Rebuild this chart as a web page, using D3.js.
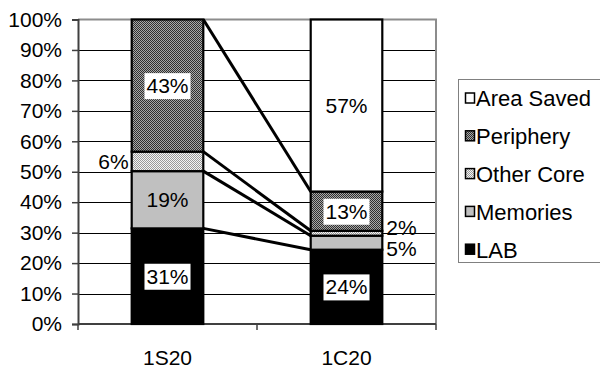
<!DOCTYPE html>
<html>
<head>
<meta charset="utf-8">
<script src="https://cdn.jsdelivr.net/npm/d3@7"></script>
<style>
  body { margin: 0; background: #fff; }
  svg { display: block; }
  text { font-family: "Liberation Sans", Arial, sans-serif; fill: #000; }
</style>
</head>
<body>
<svg id="chart" width="600" height="369"></svg>
<script>
// Area breakdown per architecture (percent of total)
const categories = ["1S20", "1C20"];
const seriesNames = ["LAB", "Memories", "Other Core", "Periphery", "Area Saved"];
const lab        = [31.4, 24.4];
const memories   = [18.8, 4.6];
const otherCore  = [6.4, 1.6];
const periphery  = [43.4, 12.9];
const areaSaved  = [0, 56.5];
const yTicks = [0, 10, 20, 30, 40, 50, 60, 70, 80, 90, 100];

const seriesValues = [lab, memories, otherCore, periphery, areaSaved];
const rows = categories.map((c, i) => {
  const r = { category: c };
  seriesNames.forEach((s, k) => { r[s] = seriesValues[k][i]; });
  return r;
});

const svg = d3.select("#chart");
const plotL = 78, plotR = 436, plotT = 19.5, plotB = 324;
const FS = 21;

const x = d3.scaleBand().domain(categories).range([plotL, plotR])
  .paddingInner(0.6).paddingOuter(0.3);
const y = d3.scaleLinear().domain([0, 100]).range([plotB, plotT]);

// stipple fills: 16px tiles of alternating 1px dots
const defs = svg.append("defs");
function stipple(id, base, dot) {
  const n = 16;
  let d = "";
  for (let r = 0; r < n; r++)
    for (let c = 0; c < n; c++)
      if ((c + r) % 2 === 0) d += `M${c},${r}h1v1h-1z`;
  const p = defs.append("pattern").attr("id", id)
    .attr("patternUnits", "userSpaceOnUse").attr("width", n).attr("height", n);
  p.append("rect").attr("width", n).attr("height", n).attr("fill", base)
    .attr("shape-rendering", "crispEdges");
  p.append("path").attr("d", d).attr("fill", dot).attr("shape-rendering", "crispEdges");
}
stipple("pat-periphery", "#a8a8a8", "#303030");
stipple("pat-other", "#f4f4f4", "#9a9a9a");

const fills = {
  "LAB": "#000",
  "Memories": "#c0c0c0",
  "Other Core": "url(#pat-other)",
  "Periphery": "url(#pat-periphery)",
  "Area Saved": "#fff"
};

// gridlines
svg.append("g").selectAll("line").data(yTicks.filter(t => t > 0 && t < 100)).join("line")
  .attr("x1", plotL).attr("x2", plotR)
  .attr("y1", d => Math.round(y(d)) + 0.5).attr("y2", d => Math.round(y(d)) + 0.5)
  .attr("stroke", "#000").attr("stroke-width", 1);

// plot border (top and right)
svg.append("path")
  .attr("d", `M${plotL},${y(100)}H${plotR}V${plotB}`)
  .attr("fill", "none").attr("stroke", "#8c8c8c").attr("stroke-width", 2);

// y axis
const yAxis = svg.append("g").attr("transform", `translate(${plotL},0)`)
  .call(d3.axisLeft(y).tickValues(yTicks).tickFormat(d => d + "%").tickSize(6).tickPadding(10));
yAxis.select(".domain").attr("stroke", "#404040").attr("stroke-width", 2);
yAxis.selectAll(".tick line").attr("stroke", "#404040").attr("stroke-width", 1.5);
yAxis.selectAll(".tick text").attr("font-size", FS).attr("font-family", "Liberation Sans, Arial, sans-serif").attr("fill", "#000");

// x axis: ticks at category boundaries, labels at centres
const gap = x.step() - x.bandwidth();
const bounds = categories.map(c => x(c) - gap / 2).concat([x(categories[categories.length - 1]) + x.bandwidth() + gap / 2]);
const xAxis = svg.append("g");
xAxis.append("line").attr("x1", plotL).attr("x2", plotR).attr("y1", plotB).attr("y2", plotB)
  .attr("stroke", "#404040").attr("stroke-width", 2);
xAxis.selectAll("line.tk").data(bounds).join("line").attr("class", "tk")
  .attr("x1", d => d).attr("x2", d => d).attr("y1", plotB).attr("y2", plotB + 6)
  .attr("stroke", "#404040").attr("stroke-width", 1.5);
xAxis.selectAll("text").data(categories).join("text")
  .attr("x", d => x(d) + x.bandwidth() / 2).attr("y", 364.5)
  .attr("text-anchor", "middle").attr("font-size", FS).text(d => d);

// stacked data
const stacked = d3.stack().keys(seriesNames)(rows);

// series lines joining matching segment tops
const c0 = categories[0], c1 = categories[1];
const lineSeries = stacked.filter(s => s.key !== "Area Saved");
svg.append("g").selectAll("line").data(lineSeries).join("line")
  .attr("x1", x(c0) + x.bandwidth()).attr("y1", s => y(s[0][1]))
  .attr("x2", x(c1)).attr("y2", s => y(s[1][1]))
  .attr("stroke", "#000").attr("stroke-width", 3);

// bars
const barG = svg.append("g");
stacked.forEach(s => {
  s.forEach((d, i) => {
    if (d[1] - d[0] <= 0) return;
    barG.append("rect")
      .attr("x", x(categories[i])).attr("width", x.bandwidth())
      .attr("y", y(d[1])).attr("height", y(d[0]) - y(d[1]))
      .attr("fill", fills[s.key]).attr("stroke", "#000").attr("stroke-width", 2.2);
  });
});

// data labels
const labelG = svg.append("g");
const outside = [];
stacked.forEach(s => {
  s.forEach((d, i) => {
    const v = d[1] - d[0];
    if (v <= 0) return;
    const txt = Math.round(v) + "%";
    const cy = (y(d[0]) + y(d[1])) / 2;
    if (v < 8) {
      outside.push({ txt, cy, i });
      return;
    }
    const cx = x(categories[i]) + x.bandwidth() / 2;
    const g = labelG.append("g");
    const t = g.append("text").attr("x", cx).attr("y", cy).attr("dy", "0.36em")
      .attr("text-anchor", "middle").attr("font-size", FS).text(txt);
    if (s.key !== "Memories") {
      const bb = t.node().getBBox();
      g.insert("rect", "text").attr("x", bb.x - 2).attr("y", bb.y - 1)
        .attr("width", bb.width + 4).attr("height", bb.height + 3).attr("fill", "#fff");
    }
  });
});

// small segments: labels beside the bar, spread so they don't collide
[0, 1].forEach(i => {
  const items = outside.filter(o => o.i === i).sort((a, b) => b.cy - a.cy);
  for (let k = 1; k < items.length; k++) {
    const need = 21 - (items[k - 1].cy - items[k].cy);
    if (need > 0) { items[k - 1].cy += need / 2; items[k].cy -= need / 2; }
  }
  items.forEach(o => {
    const isLeft = i === 0;
    labelG.append("text")
      .attr("x", isLeft ? x(categories[i]) - 3 : x(categories[i]) + x.bandwidth() + 4)
      .attr("y", o.cy).attr("dy", "0.36em")
      .attr("text-anchor", isLeft ? "end" : "start").attr("font-size", FS).text(o.txt);
  });
});

// legend
const legend = svg.append("g");
legend.append("rect").attr("x", 458.5).attr("y", 79.5).attr("width", 150).attr("height", 183)
  .attr("fill", "#fff").attr("stroke", "#808080").attr("stroke-width", 1);
const legendOrder = seriesNames.slice().reverse();
legendOrder.forEach((name, k) => {
  const cy = 98.5 + k * 37.8;
  legend.append("rect").attr("x", 465.5).attr("y", cy - 5.5).attr("width", 9).attr("height", 10)
    .attr("fill", fills[name]).attr("stroke", "#000").attr("stroke-width", 1.5);
  legend.append("text").attr("x", 476).attr("y", cy).attr("dy", "0.36em")
    .attr("font-size", 22).text(name);
});
</script>
</body>
</html>
